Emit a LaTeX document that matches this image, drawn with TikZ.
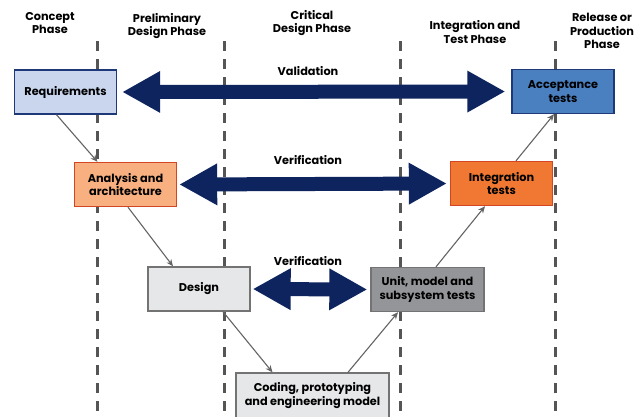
\documentclass[tikz,border=0pt]{standalone}
\usepackage{fontspec}
\setmainfont{Poppins}
\usetikzlibrary{arrows.meta}
\definecolor{xnavy}{RGB}{14,36,94}
\definecolor{xdash}{RGB}{85,85,85}
\definecolor{xlink}{RGB}{100,100,100}
\definecolor{xlblue}{RGB}{201,214,238}
\definecolor{xdblue}{RGB}{31,56,120}
\definecolor{xmblue}{RGB}{74,127,192}
\definecolor{xpeach}{RGB}{248,176,128}
\definecolor{xorange}{RGB}{240,120,50}
\definecolor{xrimred}{RGB}{210,70,35}
\definecolor{xlgray}{RGB}{230,231,233}
\definecolor{xmgray}{RGB}{147,149,152}
\definecolor{xrim}{RGB}{115,115,115}

\begin{document}
\begin{tikzpicture}[x=1pt,y=-1pt,font=\fontsize{11.3}{13.5}\selectfont\bfseries]
\tikzset{phase/.style={align=center,inner sep=0pt}}
\tikzset{box/.style={align=center,inner sep=0pt,line width=1.4pt,minimum width=102pt,minimum height=44pt}}
\tikzset{blue1/.style={box,fill=xlblue,draw=xdblue}}
\tikzset{blue2/.style={box,fill=xmblue,draw=xdblue}}
\tikzset{oran1/.style={box,fill=xpeach,draw=xrimred}}
\tikzset{oran2/.style={box,fill=xorange,draw=xrimred}}
\tikzset{gray1/.style={box,fill=xlgray,draw=xrim}}
\tikzset{gray2/.style={box,fill=xmgray,draw=xrim}}
\tikzset{flow/.style={draw=xlink,line width=1.1pt,-{Stealth[length=7pt,width=6pt]}}}
\tikzset{loop/.style={draw=xnavy,line width=14pt,{Triangle[length=38pt,width=39pt]}-{Triangle[length=38pt,width=39pt]}}}
\useasboundingbox[fill=white] (0,0) rectangle (640,416);
\clip (0,0) rectangle (640,416);
% phase headers
\node[phase] at (50,23) (ph1) {Concept\\Phase};
\node[phase] at (167,26) (ph2) {Preliminary\\Design Phase};
\node[phase] at (312,23) (ph3) {Critical\\Design Phase};
\node[phase] at (475,32) (ph4) {Integration and\\Test Phase};
\node[phase] at (602,31) (ph5) {Release or\\Production\\Phase};
% phase borders
\foreach \x in {97,224,400,555}
  \draw[xdash,line width=3pt,dash pattern=on 10pt off 8pt] (\x,41) -- (\x,420);
% left leg of the V
\node[blue1] at (65.5,92) (req) {Requirements};
\node[oran1] at (125.5,184.5) (ana) {Analysis and\\architecture};
\node[gray1] at (199,289) (des) {Design};
\node[gray1,minimum width=153pt,minimum height=45pt] at (312.5,395.5) (code) {Coding, prototyping\\and engineering model};
% right leg of the V
\node[gray2,minimum width=113pt] at (427.5,289.5) (unit) {Unit, model and\\subsystem tests};
\node[oran2] at (501.5,183.5) (integ) {Integration\\tests};
\node[blue2] at (563,91.5) (acc) {Acceptance\\tests};
\draw[flow] ([xshift=-9pt]req.south) -- ([xshift=-28pt]ana.north);
\draw[flow] ([xshift=2.5pt]ana.south) -- ([xshift=-26pt]des.north);
\draw[flow] ([xshift=24pt]des.south) -- ([xshift=-40pt]code.north);
\draw[flow] ([xshift=35.5pt]code.north) -- ([xshift=-29.5pt]unit.south);
\draw[flow] ([xshift=8.5pt]unit.north) -- ([xshift=-16.5pt]integ.south);
\draw[flow] ([xshift=14.5pt]integ.north) -- ([xshift=-9pt]acc.south);
% validation and verification
\draw[loop,shorten <=5pt,shorten >=6pt] (req.east) -- (acc.west);
\draw[loop,shorten <=2pt,shorten >=3pt] (ana.east) -- (integ.west);
\draw[loop,shorten <=2pt,shorten >=3pt] (des.east) -- (unit.west);
\node at (308,71) (val) {Validation};
\node at (308,160) (ver1) {Verification};
\node at (308,261) (ver2) {Verification};
\end{tikzpicture}
\end{document}
